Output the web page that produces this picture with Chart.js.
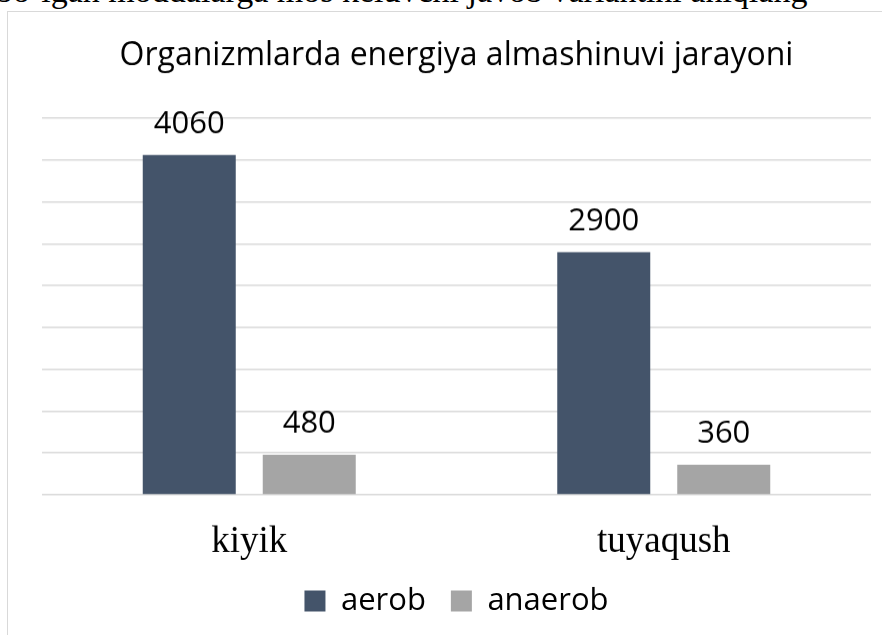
<!DOCTYPE html>
<html>
<head>
<meta charset="utf-8">
<script src="https://cdn.jsdelivr.net/npm/chart.js@4"></script>
<style>
  html, body { margin: 0; padding: 0; background: #fff; overflow: hidden; }
  #question {
    position: absolute; left: -4px; top: -28px; white-space: nowrap;
    font-family: "Liberation Serif", serif; font-size: 34px; color: #000;
  }
  #frame {
    position: absolute; left: 7px; top: 11px; width: 900px; height: 700px;
    border-left: 1px solid #d9d9d9; border-top: 1px solid #d9d9d9; background: #fff;
  }
  #box { position: absolute; left: 8px; top: 12px; width: 874px; height: 613.5px; }
</style>
</head>
<body>
<div id="question">bo‘lgan moddalarga mos keluvchi javob variantini aniqlang</div>
<div id="frame"></div>
<div id="box"><canvas id="chart"></canvas></div>
<script>
var categories = ['kiyik', 'tuyaqush'];
var aerob = [4060, 2900];
var anaerob = [480, 360];
var seriesNames = ['aerob', 'anaerob'];

// draw the value above every bar
var valueLabels = {
  id: 'valueLabels',
  afterDatasetsDraw: function(chart) {
    var ctx = chart.ctx;
    ctx.save();
    ctx.font = '31px "Open Sans"';
    ctx.fillStyle = '#000';
    ctx.textAlign = 'center';
    ctx.textBaseline = 'alphabetic';
    chart.data.datasets.forEach(function(ds, i) {
      chart.getDatasetMeta(i).data.forEach(function(bar, j) {
        ctx.fillText(ds.data[j], bar.x, bar.y - 22);
      });
    });
    ctx.restore();
  }
};

new Chart(document.getElementById('chart'), {
  type: 'bar',
  data: {
    labels: categories,
    datasets: [
      { label: seriesNames[0], data: aerob, backgroundColor: '#44546a', borderWidth: 0 },
      { label: seriesNames[1], data: anaerob, backgroundColor: '#a5a5a5', borderWidth: 0 }
    ]
  },
  options: {
    responsive: true,
    maintainAspectRatio: false,
    animation: false,
    datasets: { bar: { barPercentage: 0.775, categoryPercentage: 0.579 } },
    layout: { padding: { left: 34, right: 11, top: 0, bottom: 0 } },
    plugins: {
      title: {
        display: true,
        text: 'Organizmlarda energiya almashinuvi jarayoni',
        color: '#000',
        font: { family: 'Open Sans', size: 32, weight: 'normal' },
        padding: { top: 25, bottom: 42.6 }
      },
      legend: {
        position: 'bottom',
        labels: {
          color: '#000',
          font: { family: 'Open Sans', size: 31 },
          boxWidth: 21, boxHeight: 21, padding: 25
        }
      },
      tooltip: { enabled: false }
    },
    scales: {
      x: {
        grid: { display: false },
        border: { display: false },
        ticks: { color: '#000', font: { family: 'Liberation Serif', size: 37 }, padding: 17 },
        afterFit: function(scale) { scale.height = 65.5; }
      },
      y: {
        min: 0, max: 4500,
        ticks: { display: false, stepSize: 500 },
        grid: { color: '#d9d9d9', lineWidth: 1.5, drawTicks: false },
        border: { display: false }
      }
    }
  },
  plugins: [valueLabels]
});
</script>
</body>
</html>
